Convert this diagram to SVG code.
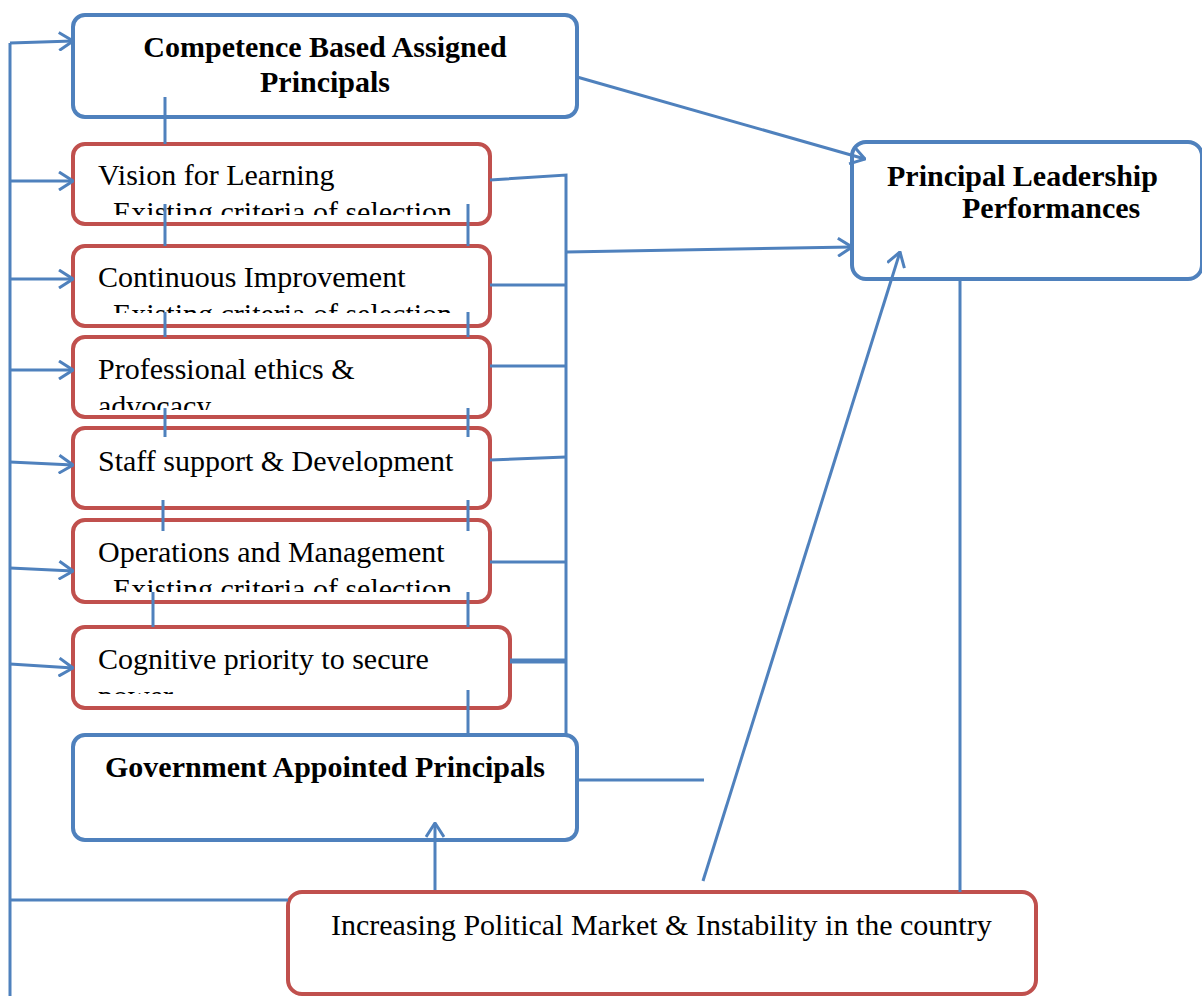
<svg xmlns="http://www.w3.org/2000/svg" width="1202" height="996" viewBox="0 0 1202 996">
  <style>
    .blue { fill: #ffffff; stroke: #4F81BD; stroke-width: 4; }
    .red { fill: #ffffff; stroke: #C0504D; stroke-width: 4; }
    .ln { fill: none; stroke: #4F81BD; stroke-width: 3; }
    .arr { marker-end: url(#head); }
    .t { font-family: "Liberation Serif", "Times New Roman", serif; font-size: 30px; fill: #000; }
    .b { font-weight: bold; }
  </style>
  <defs>
    <marker id="head" markerUnits="userSpaceOnUse" viewBox="0 0 16 20" refX="15" refY="10" markerWidth="16" markerHeight="20" orient="auto">
      <path d="M1,1 L15,10 L1,19" fill="none" stroke="#4F81BD" stroke-width="3"/>
    </marker>
    <clipPath id="c-vision"><rect x="75" y="146" width="413" height="69"/></clipPath>
    <clipPath id="c-cont"><rect x="75" y="248" width="413" height="65"/></clipPath>
    <clipPath id="c-prof"><rect x="75" y="339" width="413" height="71"/></clipPath>
    <clipPath id="c-ops"><rect x="75" y="522" width="413" height="70"/></clipPath>
    <clipPath id="c-cog"><rect x="75" y="629" width="433" height="65"/></clipPath>
  </defs>

  <!-- boxes -->
  <g id="competence">
    <rect class="blue" x="73" y="15" width="504" height="102" rx="12"/>
    <text class="t b" x="325" y="57" text-anchor="middle">Competence Based Assigned</text>
    <text class="t b" x="325" y="92" text-anchor="middle">Principals</text>
  </g>

  <g id="vision">
    <rect class="red" x="73" y="144" width="417" height="80" rx="12"/>
    <g clip-path="url(#c-vision)">
      <text class="t" x="98" y="185">Vision for Learning</text>
      <text class="t" x="113" y="222">Existing criteria of selection</text>
    </g>
  </g>

  <g id="continuous">
    <rect class="red" x="73" y="246" width="417" height="80" rx="12"/>
    <g clip-path="url(#c-cont)">
      <text class="t" x="98" y="287">Continuous Improvement</text>
      <text class="t" x="113" y="324">Existing criteria of selection</text>
    </g>
  </g>

  <g id="ethics">
    <rect class="red" x="73" y="337" width="417" height="80" rx="12"/>
    <g clip-path="url(#c-prof)">
      <text class="t" x="98" y="379">Professional ethics &amp;</text>
      <text class="t" x="98" y="416">advocacy</text>
    </g>
  </g>

  <g id="staff">
    <rect class="red" x="73" y="428" width="417" height="80" rx="12"/>
    <text class="t" x="98" y="471">Staff support &amp; Development</text>
  </g>

  <g id="operations">
    <rect class="red" x="73" y="520" width="417" height="82" rx="12"/>
    <g clip-path="url(#c-ops)">
      <text class="t" x="98" y="562">Operations and Management</text>
      <text class="t" x="113" y="599">Existing criteria of selection</text>
    </g>
  </g>

  <g id="cognitive">
    <rect class="red" x="73" y="627" width="437" height="81" rx="12"/>
    <g clip-path="url(#c-cog)">
      <text class="t" x="98" y="669">Cognitive priority to secure</text>
      <text class="t" x="98" y="706">power</text>
    </g>
  </g>

  <g id="government">
    <rect class="blue" x="73" y="735" width="504" height="105" rx="12"/>
    <text class="t b" x="325" y="777" text-anchor="middle">Government Appointed Principals</text>
  </g>

  <g id="performance">
    <rect class="blue" x="852" y="142" width="350" height="137" rx="14"/>
    <text class="t b" x="887" y="186">Principal Leadership</text>
    <text class="t b" x="962" y="218">Performances</text>
  </g>

  <g id="instability">
    <rect class="red" x="288" y="892" width="748" height="102" rx="14"/>
    <text class="t" x="331" y="935">Increasing Political Market &amp; Instability in the country</text>
  </g>

  <!-- connectors -->
  <g id="connectors">
    <!-- left feedback bus -->
    <path class="ln" d="M10,996 V43"/>
    <path class="ln arr" d="M10,43 L73,41"/>
    <path class="ln arr" d="M10,181 L73,181"/>
    <path class="ln arr" d="M10,279 L73,279"/>
    <path class="ln arr" d="M10,370 L73,370"/>
    <path class="ln arr" d="M10,462 L73,465"/>
    <path class="ln arr" d="M10,568 L73,571"/>
    <path class="ln arr" d="M10,664 L73,668"/>
    <path class="ln" d="M10,900 H288"/>

    <!-- links between stacked boxes -->
    <path class="ln" d="M165,97 V144"/>
    <path class="ln" d="M165,204 V246 M468,204 V246"/>
    <path class="ln" d="M165,312 V337 M468,312 V337"/>
    <path class="ln" d="M165,408 V437 M468,408 V437"/>
    <path class="ln" d="M163,500 V531 M468,500 V531"/>
    <path class="ln" d="M153,592 V627 M468,592 V627"/>
    <path class="ln" d="M468,690 V735"/>

    <!-- right collector bus -->
    <path class="ln" d="M490,180 L566,175 V735"/>
    <path class="ln" d="M490,285 H566"/>
    <path class="ln" d="M490,366 H566"/>
    <path class="ln" d="M490,460 L566,457"/>
    <path class="ln" d="M490,562 H566"/>
    <path class="ln" d="M510,661 H566" style="stroke-width:5"/>
    <path class="ln arr" d="M566,252 L852,247"/>

    <!-- into performance box -->
    <path class="ln arr" d="M577,77 L865,159"/>
    <path class="ln" d="M577,780 H704"/>
    <path class="ln arr" d="M703,881 L900,252"/>
    <path class="ln" d="M960,279 V892"/>
    <path class="ln arr" d="M435,890 V823"/>
  </g>
</svg>
